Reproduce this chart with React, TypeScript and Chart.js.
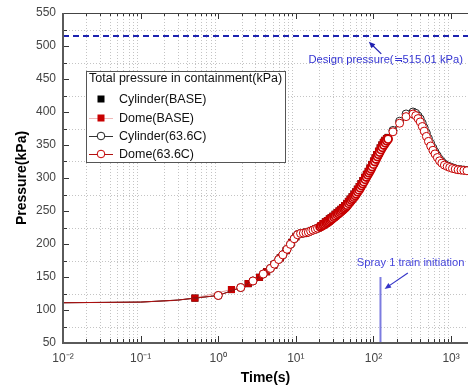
import React, { useEffect, useRef } from "react";
import { Chart, registerables } from "chart.js";

Chart.register(...registerables);

// ---- axes ----
const X_MIN = 0.01;
const X_MAX = 1650;
const Y_MIN = 50;
const Y_MAX = 550;
const Y_STEP = 50;
const X_DECADES = [0.01, 0.1, 1, 10, 100, 1000];
const X_TICK_LABELS = ["10\u207B\u00B2", "10\u207B\u00B9", "10\u2070", "10\u00B9", "10\u00B2", "10\u00B3"];

// ---- texts ----
const X_TITLE = "Time(s)";
const Y_TITLE = "Pressure(kPa)";
const LEGEND_TITLE = "Total pressure in containment(kPa)";
const SERIES_NAMES = ["Cylinder(BASE)", "Dome(BASE)", "Cylinder(63.6C)", "Dome(63.6C)"];
const DESIGN_LABEL = "Design pressure(\u2252515.01 kPa)";
const SPRAY_LABEL = "Spray 1 train initiation";

// ---- reference values ----
const DESIGN_PRESSURE = 515.01;
const SPRAY_TIME = 123;
const SPRAY_LINE_TOP = 150;

// ---- BASE case ----
const BASE_T = [0.01, 0.03, 0.1, 0.25, 0.5, 1.48, 2.43, 3.4, 4.2, 5.2, 6.3, 7.5, 8.8, 10, 11, 12, 13, 14, 15, 16, 17, 18, 19.5, 21, 22.5, 24, 25.5, 27, 28.5, 30, 32, 34, 36, 38, 40, 42.5, 45, 47.5, 50, 53, 56, 59, 62, 65.5, 69, 73, 77, 81, 85.5, 90, 95, 100, 105, 110, 116, 122, 128, 134, 140, 147, 154];
const DOME_BASE_P = [111, 111.3, 112, 114, 118, 131, 140, 149.5, 158, 168, 179, 190, 202, 211, 215, 216.5, 217, 218, 219, 220.5, 221.5, 222.5, 224.5, 227.5, 231, 233.5, 235.5, 238, 240, 242, 245, 247.5, 250, 252.5, 255, 258, 261, 264.5, 268, 271.5, 275.5, 279, 283, 287, 291.5, 296, 301, 305.5, 310, 315, 320.5, 325.5, 330.5, 335.5, 340.5, 345.5, 350, 354, 357, 359.5, 361];
const CYL_BASE_P = [111, 111.3, 112, 114, 118, 131, 140, 149.5, 158, 168, 179, 190, 202, 211, 215, 216.5, 217, 218, 219, 220.5, 221.5, 222.5, 224.5, 227.5, 231, 233.5, 235.5, 238, 240, 242, 245, 247.5, 250, 252.5, 255, 258, 261, 264.5, 268, 271.5, 275.5, 279, 283, 287, 291.5, 296, 301, 305.5, 310, 315, 320.5, 325.5, 330.5, 335.5, 340.5, 345.5, 350, 354, 357, 359.5, 361.5];

// ---- 63.6C case ----
const C636_T = [
  0.01, 0.03, 0.1, 0.3, 1.0, 1.95, 2.8, 3.8, 4.7, 5.3, 6.0, 6.8, 7.7, 8.5, 9.5, 10.5, 11.5, 12.5, 13.5, 14.5, 15.5, 16.6, 17.8, 19,
  20.5, 21.5, 22.5, 23.5, 24.5, 25.5, 26.5, 27.5, 28.5, 29.5, 31, 32.5, 34, 35.5, 37, 38.5, 40, 41.5, 43, 44.5, 46, 48, 50, 52, 54, 56, 58, 60, 62.5, 65, 67.5, 70, 72.5, 75, 78, 81, 84, 87, 90, 93, 96, 100, 104, 108, 112, 116, 120, 125, 130, 136, 142, 148, 154,
  178, 217, 263, 323, 350, 375, 400, 425, 450, 480, 510, 545, 583, 620, 665, 710, 760, 820, 890, 960, 1040, 1130, 1230, 1340, 1460, 1600,
];
const DOME_636_P = [
  111, 111.5, 112, 115, 122, 134, 144, 154.5, 163, 169.5, 176.5, 183.5, 192, 199.5, 208, 214, 216, 216.5, 217, 218, 219.5, 221, 222.5, 224,
  226, 227.3, 228.6, 230, 231.3, 232.7, 234, 235.5, 237, 238.5, 240.5, 242.5, 244.5, 246.3, 248, 249.8, 251.5, 253.3, 255, 256.8, 258.7, 261.5, 264, 266.5, 268.8, 271, 273.5, 276, 279, 282, 285.2, 288.5, 291.5, 294.5, 298, 301.5, 304.8, 308, 311, 314, 317.3, 321, 325, 328.8, 332.5, 336, 339.3, 343, 346.5, 350, 353.3, 356.3, 359,
  370, 383, 393, 397, 394.5, 390, 385, 378, 371, 363, 355.5, 348.5, 342, 336.5, 331, 326, 322.5, 319.5, 317.5, 316, 314.5, 313.5, 312.5, 312, 311.5, 311,
];
const CYL_636_P = [
  111, 111.5, 112, 115, 122, 134, 144, 154.5, 163, 169.5, 176.5, 183.5, 192, 199.5, 208, 214, 216, 216.5, 217, 218, 219.5, 221, 222.5, 224,
  226, 227.3, 228.6, 230, 231.3, 232.7, 234, 235.5, 237, 238.5, 240.5, 242.5, 244.5, 246.3, 248, 249.8, 251.5, 253.3, 255, 256.8, 258.7, 261.5, 264, 266.5, 268.8, 271, 273.5, 276, 279, 282, 285.2, 288.5, 291.5, 294.5, 298, 301.5, 304.8, 308, 311, 314, 317.3, 321, 325, 328.8, 332.5, 336, 339.3, 343, 346.5, 350, 353.3, 356.3, 359,
  372, 386, 397, 400, 398, 394, 389.5, 383, 376, 368, 360, 352.5, 345.5, 339.5, 333.5, 328.5, 324.5, 321, 318.5, 317, 315.5, 314, 313, 312.5, 312, 311.5,
];

const FONT = "'Liberation Sans', Arial, sans-serif";
const RED = "#c80000";

const zip = (t: number[], p: number[]) => t.map((v, i) => ({ x: v, y: p[i] }));

function drawArrow(ctx: CanvasRenderingContext2D, x1: number, y1: number, x2: number, y2: number, color: string) {
  const ang = Math.atan2(y2 - y1, x2 - x1);
  const h = 7;
  ctx.save();
  ctx.strokeStyle = color;
  ctx.fillStyle = color;
  ctx.lineWidth = 1.2;
  ctx.beginPath();
  ctx.moveTo(x1, y1);
  ctx.lineTo(x2 - Math.cos(ang) * 4, y2 - Math.sin(ang) * 4);
  ctx.stroke();
  ctx.beginPath();
  ctx.moveTo(x2, y2);
  ctx.lineTo(x2 - h * Math.cos(ang - 0.4), y2 - h * Math.sin(ang - 0.4));
  ctx.lineTo(x2 - h * Math.cos(ang + 0.4), y2 - h * Math.sin(ang + 0.4));
  ctx.closePath();
  ctx.fill();
  ctx.restore();
}

const decorPlugin = {
  id: "decor",
  beforeDatasetsDraw(chart: any) {
    const { ctx, chartArea: a, scales } = chart;
    const xs = scales.x, ys = scales.y;
    ctx.save();
    ctx.beginPath();
    ctx.rect(a.left, a.top, a.right - a.left, a.bottom - a.top);
    ctx.clip();
    ctx.strokeStyle = "#c4c4c4";
    ctx.lineWidth = 1;
    ctx.setLineDash([1, 2]);
    for (let v = Y_MIN + Y_STEP / 2; v < Y_MAX; v += Y_STEP) {
      const py = Math.round(ys.getPixelForValue(v)) + 0.5;
      ctx.beginPath();
      ctx.moveTo(a.left, py);
      ctx.lineTo(a.right, py);
      ctx.stroke();
    }
    X_DECADES.forEach((d) => {
      for (let k = 2; k <= 9; k++) {
        const v = d * k;
        if (v > X_MAX) continue;
        const px = Math.round(xs.getPixelForValue(v)) + 0.5;
        ctx.beginPath();
        ctx.moveTo(px, a.top);
        ctx.lineTo(px, a.bottom);
        ctx.stroke();
      }
    });
    ctx.restore();
  },
  afterDatasetsDraw(chart: any) {
    const { ctx, chartArea: a, scales } = chart;
    const xs = scales.x, ys = scales.y;
    ctx.save();
    ctx.strokeStyle = "#333";
    ctx.lineWidth = 1;
    const xt = (v: number, len: number) => {
      const px = Math.round(xs.getPixelForValue(v)) + 0.5;
      ctx.beginPath();
      ctx.moveTo(px, a.bottom);
      ctx.lineTo(px, a.bottom - len);
      ctx.moveTo(px, a.top);
      ctx.lineTo(px, a.top + len - 1);
      ctx.stroke();
    };
    X_DECADES.forEach((d) => {
      xt(d, 7);
      for (let k = 2; k <= 9; k++) if (d * k <= X_MAX) xt(d * k, 4);
    });
    for (let v = Y_MIN; v <= Y_MAX; v += Y_STEP / 2) {
      const py = Math.round(ys.getPixelForValue(v)) + 0.5;
      const major = (v - Y_MIN) % Y_STEP === 0;
      ctx.beginPath();
      ctx.moveTo(a.left, py);
      ctx.lineTo(a.left + (major ? 6 : 4), py);
      ctx.stroke();
    }
    ctx.strokeStyle = "#444";
    ctx.lineWidth = 1;
    ctx.beginPath();
    ctx.moveTo(a.left, a.top + 0.5);
    ctx.lineTo(a.right, a.top + 0.5);
    ctx.stroke();
    ctx.strokeStyle = "#5a5a5a";
    ctx.lineWidth = 2;
    ctx.beginPath();
    ctx.moveTo(a.left, a.top);
    ctx.lineTo(a.left, a.bottom);
    ctx.lineTo(a.right, a.bottom);
    ctx.stroke();
    ctx.restore();

    // annotations
    ctx.save();
    ctx.font = `11.2px ${FONT}`;
    ctx.textBaseline = "middle";
    ctx.fillStyle = "#3434d2";
    ctx.textAlign = "left";
    ctx.fillText(DESIGN_LABEL, xs.getPixelForValue(14.5), ys.getPixelForValue(479));
    drawArrow(ctx, xs.getPixelForValue(126), ys.getPixelForValue(488), xs.getPixelForValue(87), ys.getPixelForValue(506.5), "#2020b0");
    ctx.fillStyle = "#4646dc";
    ctx.textAlign = "center";
    ctx.fillText(SPRAY_LABEL, xs.getPixelForValue(301), ys.getPixelForValue(171));
    drawArrow(ctx, xs.getPixelForValue(277), ys.getPixelForValue(156), xs.getPixelForValue(139), ys.getPixelForValue(132), "#3535c8");
    ctx.restore();

    // legend
    const L = a.left + 23, T = a.top + 58, W = 199, H = 91;
    ctx.save();
    ctx.fillStyle = "#fff";
    ctx.fillRect(L, T, W, H);
    ctx.strokeStyle = "#555";
    ctx.lineWidth = 1;
    ctx.strokeRect(L + 0.5, T + 0.5, W, H);
    ctx.font = `12.5px ${FONT}`;
    ctx.textBaseline = "middle";
    ctx.textAlign = "left";
    ctx.fillStyle = "#111";
    ctx.fillText(LEGEND_TITLE, L + 3, T + 8);
    const sx = L + 15;
    const rows = [T + 28, T + 47, T + 65, T + 83];
    const ds = chart.data.datasets;
    const items = ds.filter((d: any) => d.legendIndex !== undefined).sort((p: any, q: any) => p.legendIndex - q.legendIndex);
    items.forEach((d: any, i: number) => {
      const yy = rows[i];
      if (d.legendLine) {
        ctx.strokeStyle = d.legendLine;
        ctx.lineWidth = 1;
        ctx.beginPath();
        ctx.moveTo(sx - 12, yy + 0.5);
        ctx.lineTo(sx + 12, yy + 0.5);
        ctx.stroke();
      }
      if (d.pointStyle === "rect") {
        ctx.fillStyle = d.pointBackgroundColor;
        ctx.fillRect(sx - 3.5, yy - 3.5, 7, 7);
      } else {
        ctx.fillStyle = "#fff";
        ctx.strokeStyle = d.pointBorderColor;
        ctx.beginPath();
        ctx.arc(sx, yy, 3.8, 0, Math.PI * 2);
        ctx.fill();
        ctx.stroke();
      }
      ctx.fillStyle = "#111";
      ctx.fillText(d.label, L + 33, yy + 0.5);
    });
    ctx.restore();
  },
};

export default function App() {
  const ref = useRef<HTMLCanvasElement | null>(null);
  useEffect(() => {
    if (!ref.current) return;
    Chart.defaults.font.family = FONT;
    const markerR = (min: number, r: number) => (c: any) => (c.raw && c.raw.x < min ? 0 : r);
    const ringW = (c: any) => (c.raw && c.raw.x >= 20 && c.raw.x <= 155 ? 1.8 : 1);
    const chart = new Chart(ref.current, {
      type: "line",
      data: {
        datasets: [
          {
            label: SERIES_NAMES[3],
            legendIndex: 3,
            legendLine: "#b01010",
            data: zip(C636_T, DOME_636_P),
            borderColor: "#b01010",
            borderWidth: 1,
            pointStyle: "circle",
            pointRadius: markerR(0.5, 4),
            pointBackgroundColor: "#fff",
            pointBorderColor: RED,
            pointBorderWidth: ringW,
            order: 0,
          },
          {
            label: SERIES_NAMES[2],
            legendIndex: 2,
            legendLine: "#333",
            data: zip(C636_T, CYL_636_P),
            borderColor: "#222",
            borderWidth: 1,
            pointStyle: "circle",
            pointRadius: markerR(0.5, 4),
            pointBackgroundColor: "#fff",
            pointBorderColor: "#222",
            pointBorderWidth: 1,
            order: 1,
          },
          {
            label: SERIES_NAMES[1],
            legendIndex: 1,
            legendLine: "#f0b8b8",
            data: zip(BASE_T, DOME_BASE_P),
            borderColor: "#e79a9a",
            borderWidth: 1,
            pointStyle: "rect",
            pointRadius: markerR(0.4, 5),
            pointBackgroundColor: RED,
            pointBorderColor: RED,
            pointBorderWidth: 0,
            order: 2,
          },
          {
            label: SERIES_NAMES[0],
            legendIndex: 0,
            data: zip(BASE_T, CYL_BASE_P),
            showLine: false,
            borderColor: "#000",
            pointStyle: "rect",
            pointRadius: markerR(0.4, 5),
            pointBackgroundColor: "#000",
            pointBorderColor: "#000",
            pointBorderWidth: 0,
            order: 3,
          },
          {
            label: "design",
            data: [
              { x: X_MIN, y: DESIGN_PRESSURE },
              { x: X_MAX, y: DESIGN_PRESSURE },
            ],
            borderColor: "#1c22b0",
            borderWidth: 2,
            borderDash: [6, 4],
            pointRadius: 0,
            order: 4,
          },
          {
            label: "spray",
            data: [
              { x: SPRAY_TIME, y: Y_MIN },
              { x: SPRAY_TIME, y: SPRAY_LINE_TOP },
            ],
            borderColor: "#7c7ce0",
            borderWidth: 2,
            pointRadius: 0,
            order: 4,
          },
        ] as any,
      },
      options: {
        animation: false,
        responsive: false,
        events: [],
        layout: { autoPadding: false, padding: { top: 13, left: 0, right: 0, bottom: 0 } },
        plugins: { legend: { display: false }, tooltip: { enabled: false } },
        elements: { line: { tension: 0 } },
        scales: {
          x: {
            type: "logarithmic",
            min: X_MIN,
            max: X_MAX,
            afterBuildTicks: (s: any) => {
              s.ticks = X_DECADES.map((v) => ({ value: v, major: true }));
            },
            afterFit: (s: any) => {
              s.height = 47;
              s.paddingLeft = 0;
              s.paddingRight = 0;
            },
            grid: { display: false, drawTicks: false },
            border: { display: false },
            ticks: {
              autoSkip: false,
              maxRotation: 0,
              padding: 8,
              color: "#444",
              font: { size: 12, family: FONT },
              callback: (_v: any, i: number) => X_TICK_LABELS[i],
            },
            title: {
              display: true,
              text: X_TITLE,
              color: "#000",
              font: { size: 14, weight: "bold", family: FONT },
              padding: { top: 0, bottom: 3 },
            },
          },
          y: {
            type: "linear",
            min: Y_MIN,
            max: Y_MAX,
            afterFit: (s: any) => {
              s.width = 63;
              s.paddingTop = 0;
              s.paddingBottom = 0;
            },
            grid: { display: false, drawTicks: false },
            border: { display: false },
            ticks: {
              stepSize: Y_STEP,
              padding: 7,
              color: "#444",
              font: { size: 12, family: FONT },
            },
            title: {
              display: true,
              text: Y_TITLE,
              color: "#000",
              font: { size: 14, weight: "bold", family: FONT },
              padding: { top: 14, bottom: 0 },
            },
          },
        },
      } as any,
      plugins: [decorPlugin],
    });
    return () => chart.destroy();
  }, []);
  return (
    <div style={{ position: "fixed", left: 0, top: 0, width: 468, height: 390, background: "#fff" }}>
      <canvas ref={ref} width={468} height={390} style={{ display: "block" }} />
    </div>
  );
}
